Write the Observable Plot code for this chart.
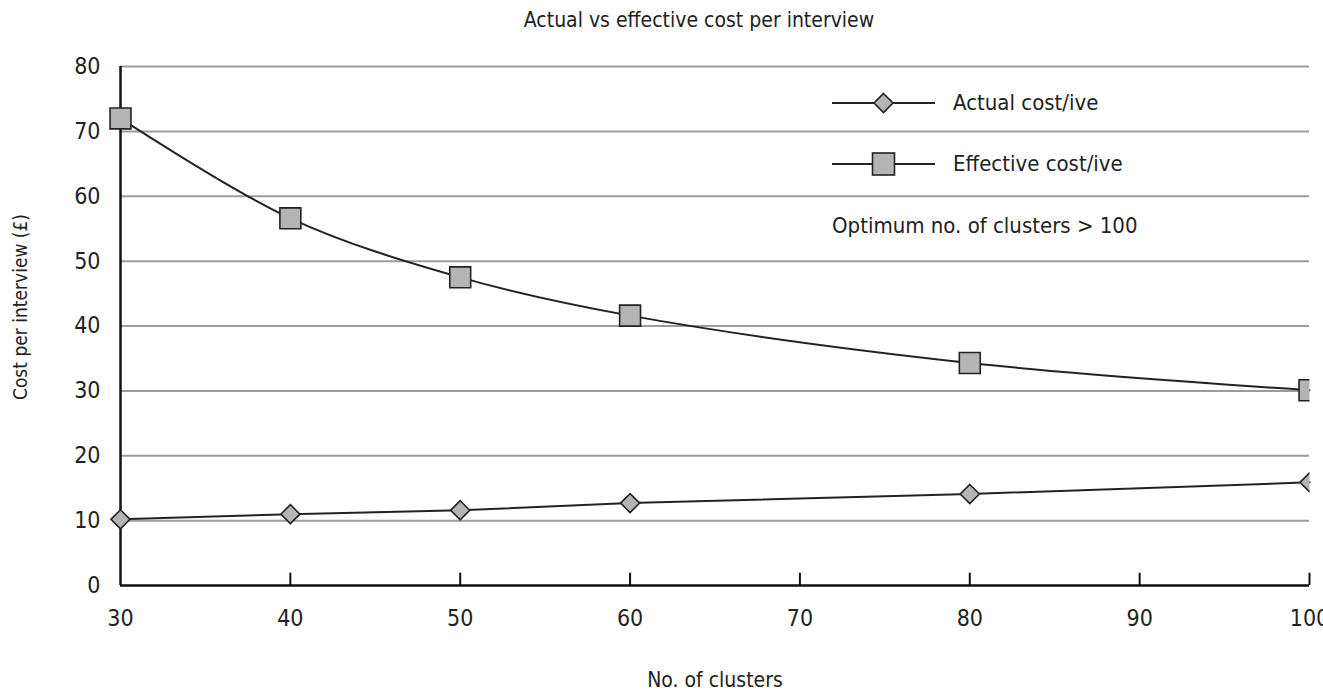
<!DOCTYPE html>
<html><head><meta charset="utf-8">
<script src="https://cdn.jsdelivr.net/npm/d3@7"></script>
<script src="https://cdn.jsdelivr.net/npm/@observablehq/plot@0.6"></script>
<style>
body{margin:0;background:#fff;}
#wrap{position:relative;width:1323px;height:695px;overflow:hidden;font-family:"DejaVu Sans Condensed",sans-serif;color:#222;}
#title{height:45px;width:1398px;text-align:center;font-size:21px;line-height:22px;padding-top:9px;box-sizing:border-box;}
#legend{position:absolute;left:832px;top:72px;font-size:22px;}
.row{position:relative;height:61px;display:flex;align-items:center;}
.row svg{margin-right:18px;}
.note{position:absolute;left:0;top:141px;white-space:nowrap;}
</style></head>
<body>
<div id="wrap">
<div id="title">Actual vs effective cost per interview</div>
<div id="chart"></div>
<div id="legend"></div>
</div>
<script>
const clusters = [30, 40, 50, 60, 80, 100];
const actualCost = [10.2, 11.0, 11.6, 12.7, 14.1, 15.9];
const effectiveCost = [72.0, 56.6, 47.5, 41.6, 34.3, 30.1];
const xTicks = [30, 40, 50, 60, 70, 80, 90, 100];
const yTicks = [0, 10, 20, 30, 40, 50, 60, 70, 80];
const seriesNames = ["Actual cost/ive", "Effective cost/ive"];
const noteText = "Optimum no. of clusters > 100";

const data = clusters.map((x, i) => ({x, actual: actualCost[i], effective: effectiveCost[i]}));
const font = '"DejaVu Sans Condensed",sans-serif';
const markFill = "#b4b4b4", markStroke = "#222";

const chart = Plot.plot({
  width: 1323, height: 650,
  marginTop: 21, marginBottom: 110, marginLeft: 120, marginRight: 14,
  x: {domain: [30, 100]},
  y: {domain: [0, 80]},
  style: {fontFamily: font, fontSize: "23px", color: "#222", background: "#fff"},
  marks: [
    Plot.gridY(yTicks.filter(d => d > 0), {stroke: "#9c9c9c", strokeOpacity: 1, strokeWidth: 2}),
    Plot.axisY({ticks: yTicks, tickSize: 0, tickPadding: 20, label: null, fontSize: 23}),
    Plot.axisX({ticks: xTicks, tickSize: 0, tickPadding: 24, label: null, fontSize: 23}),
    Plot.ruleX(xTicks.slice(1), {y1: 0, y2: 1.9, stroke: "#111", strokeWidth: 2}),
    Plot.ruleY([0], {stroke: "#111", strokeWidth: 2.5}),
    Plot.ruleX([30], {stroke: "#111", strokeWidth: 2.5}),
    Plot.line(data, {x: "x", y: "actual", stroke: "#222", strokeWidth: 2}),
    Plot.line(data, {x: "x", y: "effective", curve: "catmull-rom", stroke: "#222", strokeWidth: 2}),
    Plot.dot(data, {x: "x", y: "actual", symbol: "diamond2", r: 8.6, fill: markFill, stroke: markStroke, strokeWidth: 1.6}),
    Plot.dot(data, {x: "x", y: "effective", symbol: "square", r: 11.8, fill: markFill, stroke: markStroke, strokeWidth: 1.6}),
    Plot.text(["No. of clusters"], {frameAnchor: "bottom", dy: 95, lineAnchor: "middle", fontSize: 21, fill: "#222"}),
    Plot.text(["Cost per interview (£)"], {frameAnchor: "left", dx: -100, dy: -19, rotate: -90, lineAnchor: "middle", textAnchor: "middle", fontSize: 19, fill: "#222"})
  ]
});
// clip dot marks at the right plot edge (as in the reference)
const svgNS = "http://www.w3.org/2000/svg";
const defs = document.createElementNS(svgNS, "defs");
defs.innerHTML = '<clipPath id="rightclip"><rect x="0" y="0" width="1309" height="650"></rect></clipPath>';
chart.insertBefore(defs, chart.firstChild);
chart.querySelectorAll("g[aria-label='dot']").forEach(g => g.setAttribute("clip-path", "url(#rightclip)"));
document.getElementById("chart").appendChild(chart);

// legend
const legend = document.getElementById("legend");
const symbols = ["diamond", "square"];
seriesNames.forEach((name, i) => {
  const row = document.createElement("div");
  row.className = "row";
  const shape = symbols[i] === "diamond"
    ? `<path d="M51.5,-9.5 L61,0 L51.5,9.5 L42,0 Z" transform="translate(0,12)" fill="${markFill}" stroke="${markStroke}" stroke-width="1.6"/>`
    : `<rect x="40.5" y="1" width="22" height="22" fill="${markFill}" stroke="${markStroke}" stroke-width="1.6"/>`;
  row.innerHTML = `<svg width="103" height="24"><line x1="0" x2="103" y1="12" y2="12" stroke="#222" stroke-width="2"/>${shape}</svg><span>${name}</span>`;
  legend.appendChild(row);
});
const note = document.createElement("div");
note.className = "note";
note.textContent = noteText;
legend.appendChild(note);
</script>
</body></html>
